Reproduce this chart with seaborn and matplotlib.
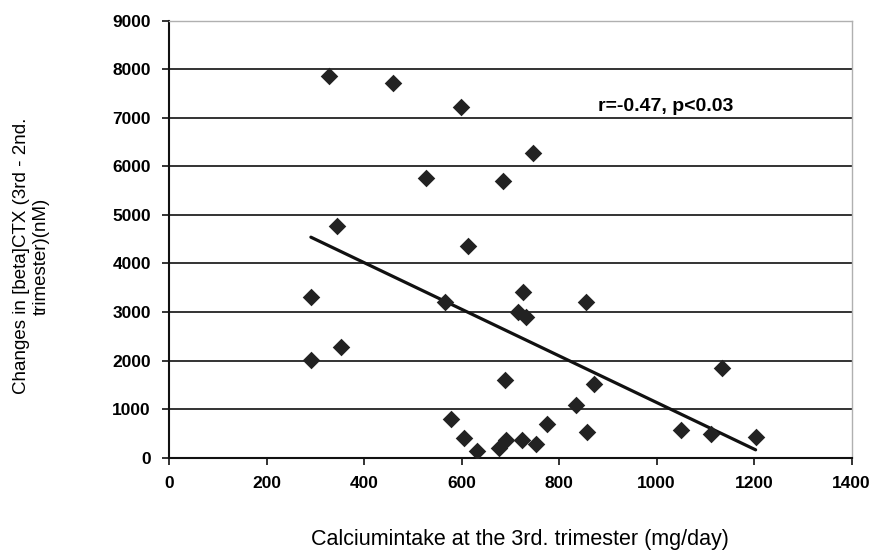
"""Calcium intake vs change in beta-CTX, scatter with linear fit."""

import matplotlib
matplotlib.use("Agg")
import matplotlib.pyplot as plt
import numpy as np
import pandas as pd
import seaborn as sns


calcium_mg_day = [
    328, 460, 599, 528, 684, 345, 614, 747, 291, 566, 291, 353, 689, 578, 604, 631,
    677, 692, 725, 716, 733, 855, 872, 835, 775, 857, 723, 753, 1049, 1111, 1135, 1203,
]
ctx_change_nm = [
    7860, 7710, 7230, 5760, 5700, 4770, 4370, 6270, 3300, 3210, 2010, 2270, 1600, 800, 400, 145,
    193, 370, 3420, 3010, 2900, 3210, 1520, 1085, 694, 536, 364, 282, 570, 488, 1840, 420,
]
x_ticks = [0, 200, 400, 600, 800, 1000, 1200, 1400]
y_ticks = [0, 1000, 2000, 3000, 4000, 5000, 6000, 7000, 8000, 9000]
annotation = "r=-0.47, p<0.03"


def main() -> None:
    sns.set_theme(style="white")
    plt.rcParams["font.family"] = ["Liberation Sans", "DejaVu Sans"]
    plt.rcParams["text.color"] = "black"
    plt.rcParams["axes.labelcolor"] = "black"
    plt.rcParams["xtick.color"] = "black"
    plt.rcParams["ytick.color"] = "black"

    df = pd.DataFrame({"calcium": calcium_mg_day, "ctx": ctx_change_nm})

    fig = plt.figure(figsize=(8.72, 5.6), dpi=100)
    ax = fig.add_axes([0.1938, 0.1827, 0.7829, 0.7803])

    for y in y_ticks[1:-1]:
        ax.axhline(y, color="#111111", linewidth=1.2, zorder=1)

    sns.regplot(data=df, x="calcium", y="ctx", scatter=False, ci=None, ax=ax,
                line_kws={"color": "#111111", "linewidth": 2.3, "zorder": 2})
    sns.scatterplot(data=df, x="calcium", y="ctx", marker="D", s=80, color="#222222",
                    edgecolor="#222222", linewidth=0, ax=ax, zorder=3)

    ax.set_xlim(0, 1400)
    ax.set_ylim(0, 9000)
    ax.set_xticks(x_ticks)
    ax.set_yticks(y_ticks)
    ax.set_xticklabels([str(t) for t in x_ticks], fontsize=12.5, fontweight="bold")
    ax.set_yticklabels([str(t) for t in y_ticks], fontsize=12.5, fontweight="bold")
    ax.tick_params(axis="both", direction="out", length=5, width=1.2, color="#111111",
                   bottom=True, left=True, pad=8)

    for side in ["left", "bottom"]:
        ax.spines[side].set_color("#111111")
        ax.spines[side].set_linewidth(1.5)
    for side in ["top", "right"]:
        ax.spines[side].set_color("#b0b0b0")
        ax.spines[side].set_linewidth(1.0)

    ax.set_xlabel("Calciumintake at the 3rd. trimester (mg/day)", fontsize=15.5)
    ax.xaxis.set_label_coords(0.514, -0.163)
    ax.set_ylabel("Changes in [beta]CTX (3rd - 2nd.\ntrimester)(nM)", fontsize=13.5)
    ax.yaxis.set_label_coords(-0.1743, 0.4616)

    ax.text(880, 7240, annotation, fontsize=14, fontweight="bold", va="center", ha="left")

    fig.savefig("out.png", dpi=100)
    plt.close(fig)


if __name__ == "__main__":
    main()
